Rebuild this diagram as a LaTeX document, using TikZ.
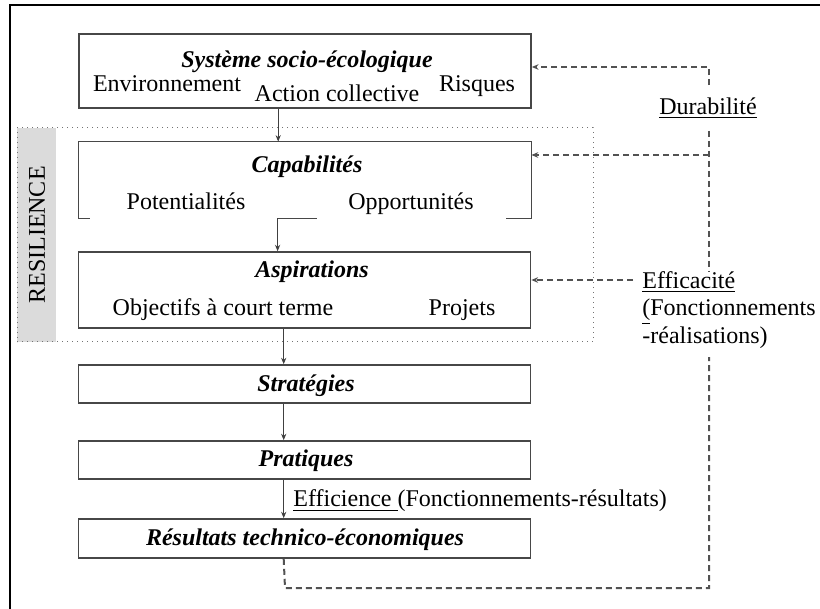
\documentclass[tikz,border=0pt]{standalone}
\usepackage{fontspec}
\setmainfont{Liberation Serif}
\usetikzlibrary{arrows.meta}
\begin{document}
\begin{tikzpicture}[x=0.5pt,y=-0.5pt,
  box/.style={draw=black!72, line width=0.8pt, minimum width=226pt, inner sep=0pt},
  ttl/.style={font=\fontsize{12}{14}\selectfont\bfseries\itshape, inner sep=1pt},
  txt/.style={font=\fontsize{12}{14}\selectfont, inner sep=1pt},
  arr/.style={draw=black!75, line width=0.5pt, -{Stealth[length=3.2pt,width=2.6pt]}},
  fb/.style={draw=black!68, line width=1pt, dash pattern=on 3pt off 2pt, -{Stealth[length=3.4pt,width=2.8pt]}},
  fbl/.style={draw=black!68, line width=1pt, dash pattern=on 3pt off 2pt},
]
\useasboundingbox (0,0) rectangle (820,609);
% outer frame (cut by the page at right and bottom)
\draw[line width=1pt, line cap=rect] (830,5) -- (10,5) -- (10,620);

% resilience zone
\node[fill=black!14, draw=none, minimum width=19.5pt, minimum height=107pt, inner sep=0pt] (strip) at (36.5,235) {};
\node[draw=black!55, dotted, line width=0.5pt, minimum width=288pt, minimum height=107pt, inner sep=0pt] (resbox) at (305,235) {};
\node[txt, rotate=90] (resil) at (37,235) {RESILIENCE};

% Système socio-écologique
\node[box, minimum height=37pt] (top) at (305,71) {};
\node[ttl] (topt) at (307,62) {Système socio-écologique};
\node[txt, anchor=base] (env) at (167,92) {Environnement};
\node[txt, anchor=base] (act) at (337,102) {Action collective};
\node[txt, anchor=base] (ris) at (477,92) {Risques};

% Capabilités (open bracket)
\node[minimum width=226pt, minimum height=38pt, inner sep=0pt] (cap) at (305,180) {};
\draw[draw=black!72, line width=0.8pt] ([xshift=5.5pt]cap.south west) -- (cap.south west) -- (cap.north west) -- (cap.north east) -- (cap.south east) -- ([xshift=-12.5pt]cap.south east);
\draw[draw=black!72, line width=0.8pt] ([xshift=99.5pt]cap.south west) -- ([xshift=119pt]cap.south west);
\node[ttl] (capt) at (307,167) {Capabilités};
\node[txt, anchor=base] (pot) at (186,210) {Potentialités};
\node[txt, anchor=base] (opp) at (411,210) {Opportunités};

% Aspirations
\node[box, minimum height=38pt] (asp) at (304.5,290) {};
\node[ttl] (aspt) at (312,272) {Aspirations};
\node[txt, anchor=base] (obj) at (223,316) {Objectifs à court terme};
\node[txt, anchor=base] (proj) at (462,316) {Projets};

% Stratégies, Pratiques, Résultats
\node[box, minimum height=19pt] (strat) at (304.5,384) {};
\node[ttl] (stratt) at (306,386) {Stratégies};
\node[box, minimum height=19pt] (prat) at (304.5,460) {};
\node[ttl] (pratt) at (306,461) {Pratiques};
\node[box, minimum height=19.5pt] (res) at (304.5,538.5) {};
\node[ttl] (rest) at (305,540) {Résultats technico-économiques};

% vertical flow arrows
\draw[arr] ([xshift=100pt]top.south west) -- ([xshift=100pt]top.south west |- cap.north);
\draw[arr] ([xshift=99.5pt]cap.south west) -- ([xshift=99.5pt]cap.south west |- asp.north);
\draw[arr] ([xshift=103pt]asp.south west) -- ([xshift=103pt]asp.south west |- strat.north);
\draw[arr] ([xshift=103pt]strat.south west) -- ([xshift=103pt]strat.south west |- prat.north);
\draw[arr] ([xshift=103pt]prat.south west) -- ([xshift=103pt]prat.south west |- res.north);
\node[txt, anchor=west] (effi) at (291,501) {\underline{Efficience\ }(Fonctionnements-résultats)};

% feedback labels
\node[txt] (dur) at (708,108) {\underline{Durabilité}};
\node[txt, anchor=west, align=left, font=\fontsize{12}{13.8}\selectfont, inner sep=0pt] (eff) at (642,310) {\underline{Efficacité}\\\underline{(}Fonctionnements\\-réalisations)};

\coordinate (c1) at (709,67);
\coordinate (c2) at (709,155);
\coordinate (c5) at (633,280);
\coordinate (c3) at (285,588);
\coordinate (c4) at (709,588);

% feedback loops
\draw[fb] (c1 |- dur.north) ++(0,-10) -- (c1) -- (c1 -| top.east);
\draw[fbl] (c2 |- dur.south) ++(0,10) -- (c2 |- eff.north);
\draw[fb] (c2) -- (c2 -| cap.east);
\draw[fb] (c5) -- (c5 -| asp.east);
\draw[fbl] ([xshift=103pt]res.south west) -- (c3) -- (c4) -- ([yshift=-4pt]c4 |- eff.south);
\end{tikzpicture}
\end{document}
